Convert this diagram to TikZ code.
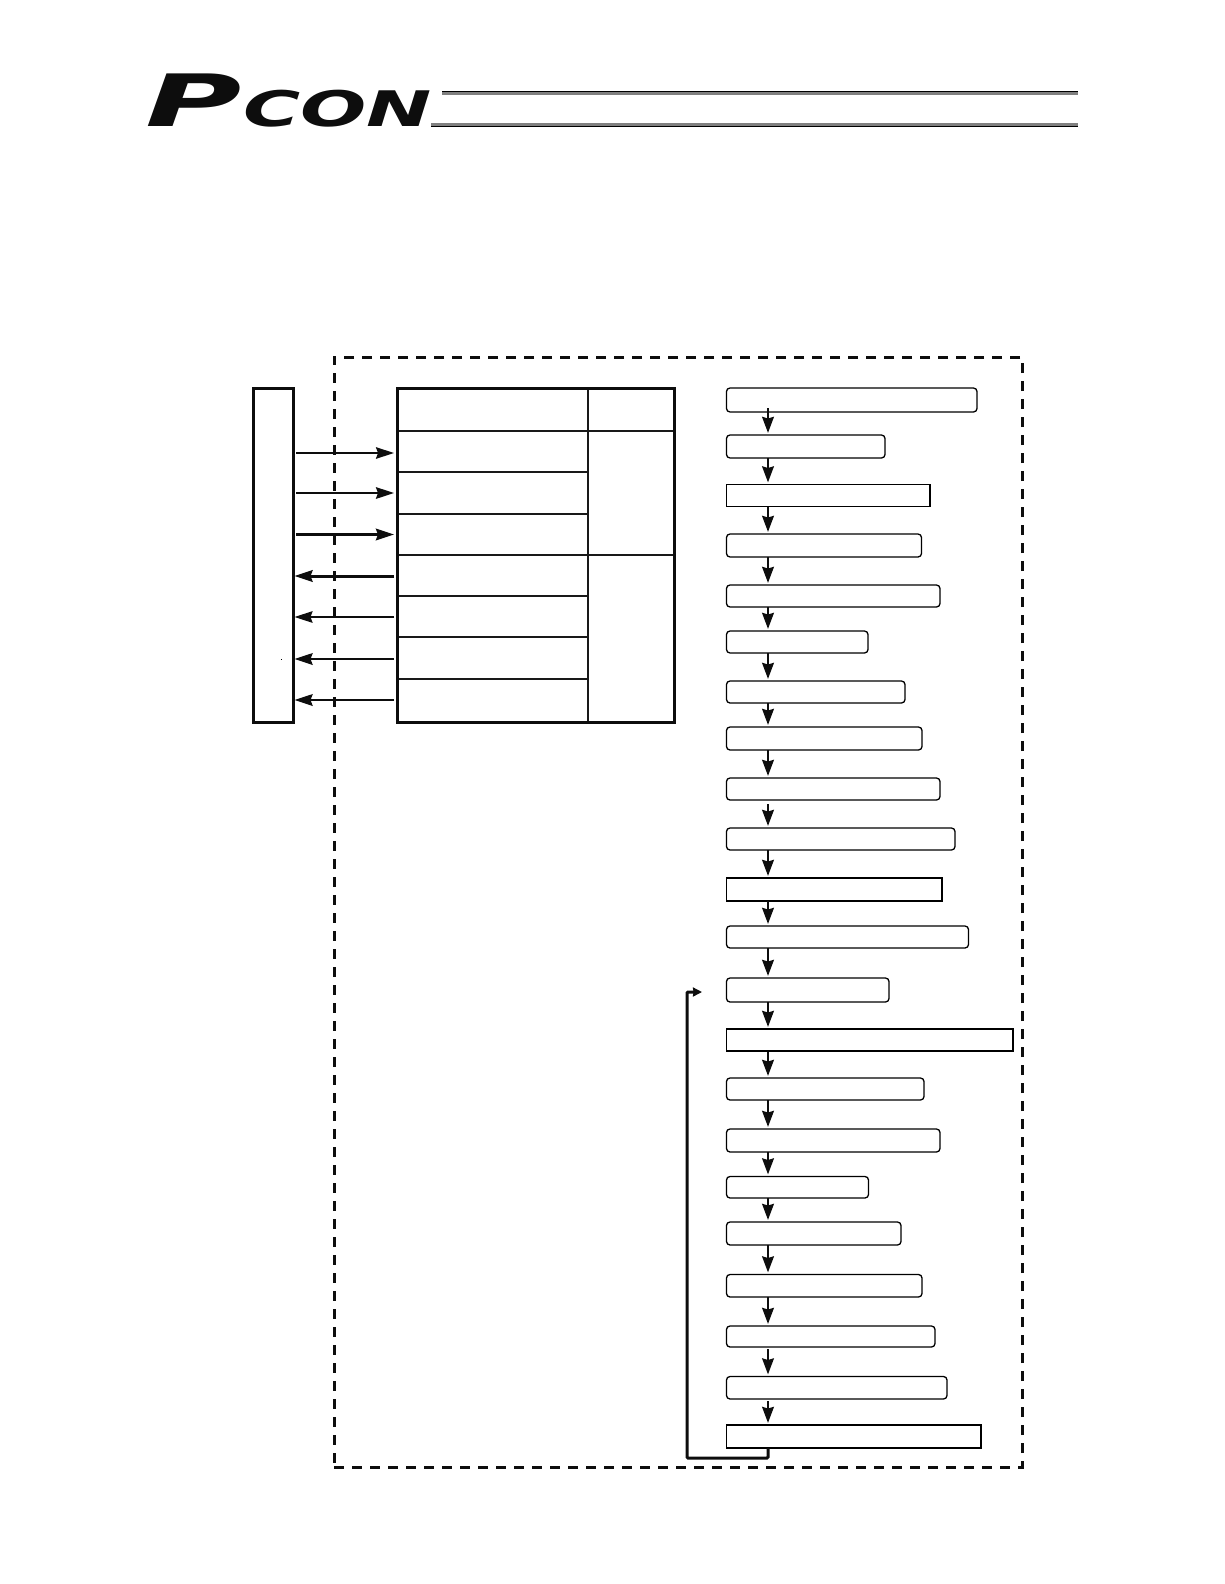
\documentclass[tikz,border=0pt]{standalone}
\usepackage{fontspec}
\newfontfamily\logofont{DejaVu Sans}[BoldFont={DejaVu Sans Bold},ItalicFont={DejaVu Sans Oblique},BoldItalicFont={DejaVu Sans Bold Oblique}]
\usetikzlibrary{arrows.meta,calc}
\tikzset{
  rbox/.style={draw=black,line width=1.3pt,rounded corners=3.5pt,fill=white,inner sep=0pt,outer sep=0pt,anchor=north west},
  sbox/.style={draw=black,line width=1.2pt,fill=white,inner sep=0pt,outer sep=0pt,anchor=north west},
  tbox/.style={draw=black,line width=1.5pt,fill=white,inner sep=0pt,outer sep=0pt,anchor=north west},
  flow/.style={draw=black!95,line width=2.8pt,-{Stealth[length=16pt,width=11.5pt,inset=1.5pt]}},
  link/.style={draw=black!95,-{Stealth[length=18pt,width=11.5pt,inset=2pt]}},
  frame/.style={draw=black!95,line width=3pt,inner sep=0pt,outer sep=0pt,anchor=north west},
  cell/.style={draw=black!90,line width=1.2pt,inner sep=0pt,outer sep=0pt,anchor=north west},
  logo/.style={inner sep=0pt,outer sep=0pt,anchor=base west,text=black!95},
}
\begin{document}
\begin{tikzpicture}[x=1pt,y=-1pt]
\useasboundingbox (0,0) rectangle (1224,1584);
% header
\node[logo,font=\logofont\bfseries\itshape\fontsize{76}{76}\selectfont,xscale=1.73,yscale=0.95] (logoP) at (145,127) {P};
\node[logo,font=\logofont\bfseries\itshape\fontsize{49}{49}\selectfont,xscale=1.59] (logoC) at (243,127) {CON};
\fill[black] (442,91) rectangle (1078,91.8);
\fill[black!50] (442,91.8) rectangle (1078,95);
\fill[black!50] (431,122.7) rectangle (1078,125.8);
\fill[black] (431,125.8) rectangle (1078,126.7);
% dashed boundary
\node[draw=black!95,line width=3pt,dash pattern=on 10pt off 8pt,inner sep=0pt,outer sep=0pt,anchor=north west,minimum width=688pt,minimum height=1110pt] (bound) at (334,357) {};
% left panel
\node[frame,minimum width=40pt,minimum height=334pt] (panel) at (253,388) {};
\fill[black] (280.5,658.5) rectangle (281.8,659.5);
% table
\foreach \n/\t/\h in {0/388/43,1/431/41,2/472/42,3/514/41,4/555/41,5/596/41,6/637/42,7/679/43}{
  \node[cell,minimum width=191pt,minimum height=\h pt] (r\n) at (397,\t) {};
}
\node[cell,minimum width=86.5pt,minimum height=43pt] (c0) at (588,388) {};
\node[cell,minimum width=86.5pt,minimum height=124pt] (c1) at (588,431) {};
\node[cell,minimum width=86.5pt,minimum height=167pt] (c2) at (588,555) {};
\node[frame,minimum width=277.5pt,minimum height=334pt] (tbl) at (397,388) {};
% links
\foreach \n/\d/\w in {1/-1.5/1.8,2/0/2.3,3/0/3}{
  \draw[link,line width=\w pt,shorten <=3pt,shorten >=3pt] ([yshift=\d pt]panel.east |- r\n.west) -- ([yshift=\d pt]r\n.west);
}
\foreach \n/\d/\w in {4/-0.5/3,5/-0.5/1.9,6/-1/2.6,7/0.5/2.6}{
  \draw[link,line width=\w pt,shorten <=3pt,shorten >=1.5pt] ([yshift=\d pt]r\n.west) -- ([yshift=\d pt]panel.east |- r\n.west);
}
% flow boxes
\foreach \n/\r/\t/\b/\s in {
 1/977/388/412/rbox,2/885/435/458/rbox,3/930/484.5/506.5/sbox,4/921.5/534/557/rbox,
 5/940/585/607/rbox,6/868/631/653/rbox,7/905/681/703/rbox,8/922/727/750/rbox,
 9/940/778/800/rbox,10/955/828/850/rbox,11/942/878/901/sbox,12/968.5/926/948/rbox,
 13/889/978/1002/rbox,14/1013/1029/1051/tbox,15/924/1078/1100/rbox,16/940/1129/1152/rbox,
 17/868.5/1176.5/1198/rbox,18/901/1222/1245/rbox,19/922/1274.5/1297/rbox,20/935/1326/1347/rbox,
 21/947/1376.5/1399/rbox,22/981/1425/1448/sbox}{
  \pgfmathsetmacro\wid{\r-726.5}
  \pgfmathsetmacro\hei{\b-\t}
  \node[\s,minimum width=\wid pt,minimum height=\hei pt] (b\n) at (726.5,\t) {};
}
\foreach \a/\c/\o in {1/2/4,2/3/0,3/4/0,4/5/0,5/6/0,6/7/0,7/8/0,8/9/0,9/10/-4,10/11/0,11/12/0,12/13/0,13/14/0,14/15/-1,15/16/0,16/17/0,17/18/0,18/19/0,19/20/0,20/21/-2,21/22/-2}{
  \draw[flow] ([xshift=41.5pt,yshift=\o pt]b\a.south west) -- ([xshift=41.5pt,yshift=2pt]b\c.north west);
}
% return loop
\coordinate (loopend) at (702,992);
\draw[line width=3pt,black!95,rounded corners=1pt,-{Stealth[length=9pt,width=9pt,inset=0.5pt]}] ([xshift=41.5pt]b22.south west) |- (687,1458) |- (loopend);
\end{tikzpicture}
\end{document}
